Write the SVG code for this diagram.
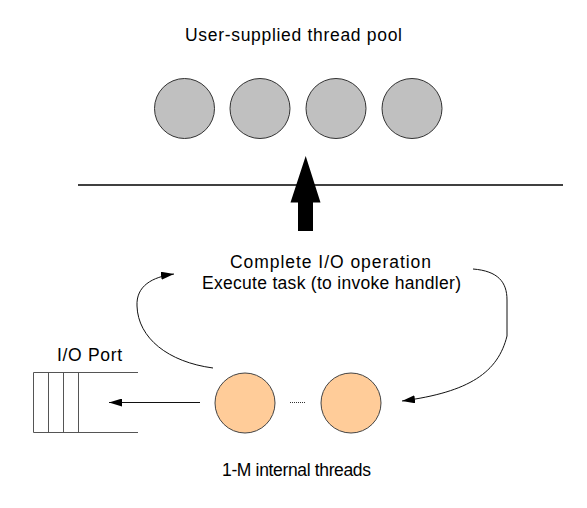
<svg xmlns="http://www.w3.org/2000/svg" width="587" height="508" viewBox="0 0 587 508">
<style>
text{font-family:"Liberation Sans",Arial,sans-serif;font-size:17.5px;fill:#000}
.pool{fill:#c0c0c0;stroke:#333;stroke-width:1}
.worker{fill:#ffcc99;stroke:#444;stroke-width:1}
.conn{fill:none;stroke:#111;stroke-width:1}
.port{fill:none;stroke:#555;stroke-width:1}
</style>
<defs>
<marker id="ah" markerWidth="14" markerHeight="8" refX="13" refY="4" orient="auto" markerUnits="userSpaceOnUse">
<path d="M0,0 L13,4 L0,8 z" fill="#000"/>
</marker>
</defs>
<rect width="587" height="508" fill="#fff"/>
<text x="185" y="41" textLength="217">User-supplied thread pool</text>
<g id="pool1"><circle class="pool" cx="184.5" cy="108.5" r="30"/></g>
<g id="pool2"><circle class="pool" cx="260" cy="108.5" r="30"/></g>
<g id="pool3"><circle class="pool" cx="336" cy="108.5" r="30"/></g>
<g id="pool4"><circle class="pool" cx="412" cy="108.5" r="30"/></g>
<line x1="78" y1="185" x2="563" y2="185" stroke="#000" stroke-width="1.3"/>
<g id="bigarrow"><path d="M305.7,156 L320.5,202.5 L313,202.5 L313,231 L298,231 L298,202.5 L290.5,202.5 Z" fill="#000"/></g>
<g id="task">
<text x="230" y="268" textLength="201">Complete I/O operation</text>
<text x="202" y="289" textLength="259">Execute task (to invoke handler)</text>
</g>
<g id="ioport">
<text x="57" y="361" textLength="65">I/O Port</text>
<path class="port" d="M138,372.5 L33.5,372.5 L33.5,432.5 L138,432.5 M48.5,372.5 L48.5,432.5 M63.5,372.5 L63.5,432.5 M78.5,372.5 L78.5,432.5"/>
</g>
<g id="worker1"><circle class="worker" cx="245" cy="403" r="30"/></g>
<g id="worker2"><circle class="worker" cx="351" cy="403" r="30"/></g>
<line x1="290" y1="402.5" x2="305" y2="402.5" stroke="#333" stroke-width="1" stroke-dasharray="1,1"/>
<text x="222" y="476" textLength="149">1-M internal threads</text>
<g id="connectors">
<path class="conn" d="M200,402.5 L109,402.5" marker-end="url(#ah)"/>
<path class="conn" d="M213,368 C168,362 138,338 137,306 C136,286 152,277 174,274" marker-end="url(#ah)"/>
<path class="conn" d="M473,269 C498,271 507,282 507,300 L507,336 C498,372 470,392 402,401" marker-end="url(#ah)"/>
</g>
</svg>
